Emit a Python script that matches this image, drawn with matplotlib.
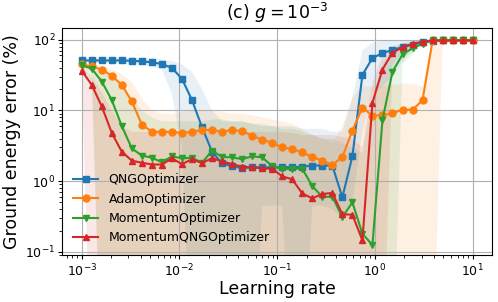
import numpy as np
import matplotlib
matplotlib.use("Agg")
from matplotlib import pyplot as plt

# learning rates scanned (40 log-spaced points from 1e-3 to 10)
learning_rates = np.logspace(-3, 1, 40)

labels = ["QNGOptimizer", "AdamOptimizer", "MomentumOptimizer", "MomentumQNGOptimizer"]
markers = ["s", "o", "v", "^"]
colors = ["tab:blue", "tab:orange", "tab:green", "tab:red"]

# mean ground energy error (%)
qng = [51, 51, 51, 51, 51, 50.5, 49.5, 48, 45.5, 40, 28, 14, 5.8, 2.6, 1.78, 1.63, 1.52, 1.57, 1.57, 1.57,
       1.58, 1.58, 1.6, 1.66, 1.66, 1.66, 0.59, 2.25, 32, 55, 65, 72, 79, 85, 93, 97, 98, 98, 98, 98]
adam = [45, 42, 38, 31, 23, 13.4, 6.3, 5.0, 5.0, 5.0, 4.8, 5.0, 5.3, 5.3, 5.0, 5.3, 5.1, 4.4, 3.85, 3.5,
        3.0, 2.85, 2.55, 2.2, 1.95, 1.7, 2.2, 5.2, 11, 8.4, 8.6, 9.1, 10.3, 10.2, 14, 98, 98, 98, 98, 98]
momentum = [44, 39, 25.7, 14, 6.0, 2.9, 2.3, 2.15, 1.85, 2.25, 2.1, 2.15, 1.82, 2.7, 2.2, 2.17, 2.05, 2.25, 2.17, 1.63,
            1.48, 1.5, 1.5, 0.85, 0.6, 0.6, 0.31, 0.5, 0.18, 0.125, 7.3, 35.5, 62, 76, 88, 98, 98, 98, 98, 98]
momentum_qng = [36.5, 23, 11.4, 4.8, 2.6, 1.95, 1.82, 1.72, 1.72, 2.1, 1.74, 2.05, 1.8, 2.12, 1.9, 1.74, 1.6, 1.57, 1.52, 1.5,
                1.17, 1.06, 0.67, 0.57, 0.66, 0.68, 0.34, 0.335, 0.145, 12.9, 38, 66, 78, 88, 94, 98, 98, 98, 98, 98]

# spread over runs (min / max)
qng_lo = [47, 47, 47, 47, 46, 45, 44, 42, 38, 17, 3, 0.001, 0.001, 0.001, 0.001, 0.001, 0.001, 0.001, 0.45, 0.45,
          0.45, 0.001, 0.001, 0.45, 0.45, 0.4, 0.3, 0.5, 5, 18, 22, 30, 50, 70, 88, 95, 96, 96, 96, 96]
qng_hi = [56, 56, 56, 56, 56, 56, 55, 54, 53, 50, 45, 35, 20, 10, 7, 7, 7, 6.5, 6.5, 6,
          6, 6, 5.5, 5.5, 5.5, 5, 5, 15, 70, 90, 100, 100, 100, 100, 100, 100, 100, 100, 100, 100]
adam_lo = [40, 35] + [0.001] * 34 + [95, 95, 95, 95]
adam_hi = [48, 46, 43, 38, 33, 25, 15, 10, 9, 9, 9.5, 10, 10, 10, 9.5, 9, 9, 8.5, 8, 7.5,
           7, 6.5, 5.5, 4.5, 4, 3.5, 6, 15, 22, 22, 22, 23, 24, 24, 22, 100, 100, 100, 100, 100]
momentum_lo = [40, 25] + [0.001] * 30 + [45, 62, 85, 95, 96, 96, 96, 96]
momentum_hi = [46, 43, 38, 30, 22, 15, 10, 8, 7, 7, 7, 7, 7, 7.5, 7.5, 7, 7, 6.5, 6, 6,
               5.5, 5.5, 5, 4.5, 4, 4, 3.5, 3, 2.5, 15, 45, 75, 88, 95, 98, 100, 100, 100, 100, 100]
momentum_qng_lo = [30] + [0.001] * 30 + [45, 65, 80, 90, 94, 95, 95, 95, 95]
momentum_qng_hi = [42, 30, 18, 10, 6, 5, 5, 5, 5, 5, 5, 5, 5, 5, 5, 5, 5, 5, 5, 5,
                   5, 4.8, 4.5, 4.5, 4.5, 4.5, 4.2, 4, 3, 25, 60, 80, 90, 95, 98, 100, 100, 100, 100, 100]

means = [qng, adam, momentum, momentum_qng]
lows = [qng_lo, adam_lo, momentum_lo, momentum_qng_lo]
highs = [qng_hi, adam_hi, momentum_hi, momentum_qng_hi]

fig = plt.figure(figsize=(4.98, 3.02), dpi=100)
ax = fig.add_axes([0.1249, 0.154, 0.8635, 0.754])

for y, lo, hi, lab, mk, c in zip(means, lows, highs, labels, markers, colors):
    ax.fill_between(learning_rates, lo, hi, color=c, alpha=0.11, linewidth=0)
    ax.plot(learning_rates, y, marker=mk, color=c, label=lab, markersize=5, linewidth=1.5)

ax.set_xscale("log")
ax.set_yscale("log")
ax.set_xlim(10 ** -3.2, 10 ** 1.2)
ax.set_ylim(0.0887, 148)
ax.grid(True)
ax.tick_params(which="major", labelsize=9, length=3, pad=2)
ax.tick_params(which="minor", length=2)
ax.set_xlabel("Learning rate", fontsize=12.5, labelpad=1)
ax.set_ylabel("Ground energy error (%)", fontsize=12.5, labelpad=3)
ax.set_title("(c) $g=10^{-3}$", fontsize=12.5)
ax.legend(loc="lower left", frameon=False, fontsize=9)

fig.savefig("out.png", dpi=100)
